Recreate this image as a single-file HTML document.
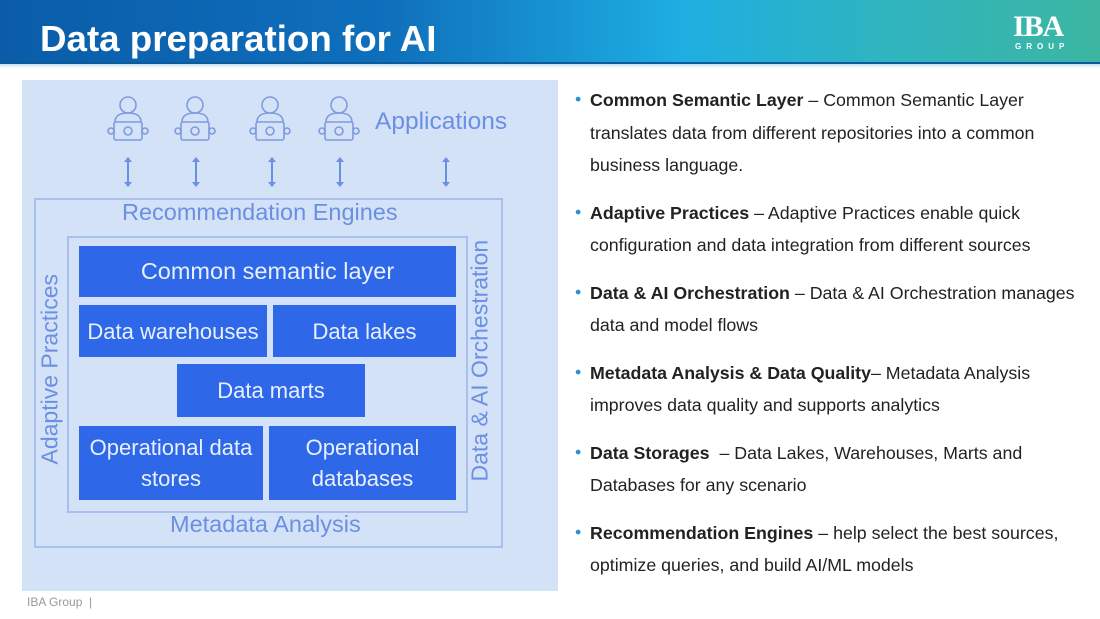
<!DOCTYPE html>
<html><head><meta charset="utf-8"><style>
*{margin:0;padding:0;box-sizing:border-box}
body{width:1100px;height:619px;background:#fff;font-family:"Liberation Sans",sans-serif;position:relative;overflow:hidden}
.hdr{position:absolute;left:0;top:0;width:1100px;height:64px;background:linear-gradient(90deg,#0a5ca8 0%,#0f6fbc 35%,#1eaee2 62%,#2fb4c0 80%,#3cb6a2 100%);border-bottom:2px solid #0b5a9c}
.hdr2{position:absolute;left:0;top:64px;width:1100px;height:4px;background:linear-gradient(#bfe0f0,#fff)}
.title{position:absolute;left:40px;top:18px;color:#fff;font-weight:bold;font-size:36px;transform:scaleX(1.02);transform-origin:left}
.logo{position:absolute;left:1013px;top:14px;color:#fff;font-family:"Liberation Serif",serif;font-weight:bold;font-size:30px;line-height:26px;letter-spacing:-1px}
.logo2{position:absolute;left:1015px;top:42px;color:#fff;font-weight:bold;font-size:8px;letter-spacing:5px}
.panel{position:absolute;left:22px;top:80px;width:536px;height:511px;background:#d4e2f8}
.lb{position:absolute;color:#6b8fe2;font-size:23.5px;white-space:nowrap}
.box{position:absolute;background:#2e68e8;color:#e8efff;font-size:22px;display:flex;align-items:center;justify-content:center;text-align:center;line-height:31px;white-space:nowrap}
.outer{position:absolute;border:2px solid #a9c0ee}
.arr{position:absolute;width:2px;height:26px;background:#6b8fe2}
.arr:before,.arr:after{content:"";position:absolute;left:-3px;border-left:4px solid transparent;border-right:4px solid transparent}
.arr:before{top:-2px;border-bottom:5px solid #6b8fe2}
.arr:after{bottom:-2px;border-top:5px solid #6b8fe2}
.list{position:absolute;left:575px;top:84px;width:525px;font-size:17.8px;color:#222;line-height:32.5px;white-space:nowrap}
.it{position:relative;padding-left:15px;margin-bottom:15px}
.it:before{content:"•";position:absolute;left:0;top:-1px;color:#2a8fd6}
.foot{position:absolute;left:27px;top:595px;font-size:12px;color:#999}
</style></head><body>
<div class="hdr"></div><div class="hdr2"></div>
<div class="title">Data preparation for AI</div>
<div class="logo">IBA</div><div class="logo2">GROUP</div>
<div class="panel"></div>
<svg style="position:absolute;left:0;top:0" width="560" height="150">
<g fill="none" stroke="#7e9be0" stroke-width="1.6">
<g id="p"><circle cx="128" cy="105" r="8"/><path d="M115 122 q0-9 13-9 q13 0 13 9"/><rect x="114" y="122" width="28" height="18" rx="2"/><circle cx="128" cy="131" r="4"/><circle cx="111" cy="131" r="3"/><circle cx="145" cy="131" r="3"/></g>
<use href="#p" x="67"/><use href="#p" x="142"/><use href="#p" x="211"/>
</g></svg>
<div class="lb" style="left:375px;top:108px;font-size:24.5px">Applications</div>
<div class="arr" style="left:127px;top:159px"></div>
<div class="arr" style="left:195px;top:159px"></div>
<div class="arr" style="left:271px;top:159px"></div>
<div class="arr" style="left:339px;top:159px"></div>
<div class="arr" style="left:445px;top:159px"></div>
<div class="outer" style="left:34px;top:198px;width:469px;height:350px"></div>
<div class="outer" style="left:67px;top:236px;width:401px;height:277px"></div>
<div class="lb" style="left:122px;top:199px">Recommendation Engines</div>
<div class="lb" style="left:170px;top:511px">Metadata Analysis</div>
<div class="lb" style="left:-40px;top:361px;transform:rotate(-90deg);transform-origin:center;width:180px;text-align:center;font-size:23px">Adaptive Practices</div>
<div class="lb" style="left:370px;top:358px;transform:rotate(-90deg);transform-origin:center;width:220px;text-align:center;font-size:23px">Data &amp; AI Orchestration</div>
<div class="box" style="left:79px;top:246px;width:377px;height:51px;font-size:23.5px">Common semantic layer</div>
<div class="box" style="left:79px;top:305px;width:188px;height:52px">Data warehouses</div>
<div class="box" style="left:273px;top:305px;width:183px;height:52px">Data lakes</div>
<div class="box" style="left:177px;top:364px;width:188px;height:53px">Data marts</div>
<div class="box" style="left:79px;top:426px;width:184px;height:74px">Operational data<br>stores</div>
<div class="box" style="left:269px;top:426px;width:187px;height:74px">Operational<br>databases</div>
<div class="list">
<div class="it"><b>Common Semantic Layer</b> – Common Semantic Layer<br>translates data from different repositories into a common<br>business language.</div>
<div class="it"><b>Adaptive Practices</b> – Adaptive Practices enable quick<br>configuration and data integration from different sources</div>
<div class="it"><b>Data &amp; AI Orchestration</b> – Data &amp; AI Orchestration manages<br>data and model flows</div>
<div class="it"><b>Metadata Analysis &amp; Data Quality</b>– Metadata Analysis<br>improves data quality and supports analytics</div>
<div class="it"><b>Data Storages</b>&nbsp; – Data Lakes, Warehouses, Marts and<br>Databases for any scenario</div>
<div class="it"><b>Recommendation Engines</b> – help select the best sources,<br>optimize queries, and build AI/ML models</div>
</div>
<div class="foot">IBA Group &nbsp;|</div>
</body></html>
